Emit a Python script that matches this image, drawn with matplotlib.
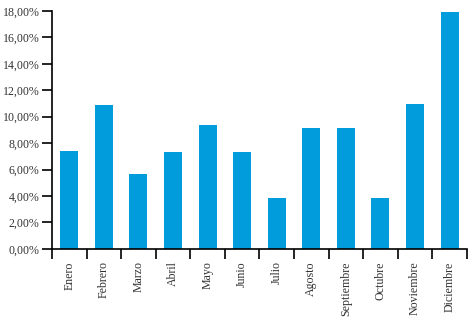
import matplotlib
matplotlib.use("Agg")
import matplotlib.pyplot as plt
from matplotlib.ticker import FuncFormatter, MultipleLocator, FixedLocator

meses = ['Enero', 'Febrero', 'Marzo', 'Abril', 'Mayo', 'Junio', 'Julio',
         'Agosto', 'Septiembre', 'Octubre', 'Noviembre', 'Diciembre']
valores = [7.4, 10.9, 5.65, 7.3, 9.35, 7.3, 3.85, 9.15, 9.15, 3.85, 10.95, 17.9]

plt.rcParams['font.family'] = ['Liberation Serif', 'DejaVu Serif']

fig = plt.figure(figsize=(4.73, 3.22), dpi=100)
ax = fig.add_axes([0.110, 0.227, 0.877, 0.739])

x = list(range(len(meses)))
ax.bar(x, valores, width=0.52, color='#009CDC', zorder=1)

ax.set_xlim(-0.5, len(meses) - 0.5)
ax.set_ylim(0, 18)

for s in ['top', 'right']:
    ax.spines[s].set_visible(False)
for s in ['left', 'bottom']:
    ax.spines[s].set_linewidth(1.2)
    ax.spines[s].set_zorder(3)

ax.yaxis.set_major_locator(MultipleLocator(2))
ax.yaxis.set_major_formatter(FuncFormatter(lambda v, p: ('%.2f' % v).replace('.', ',') + '%'))
ax.tick_params(axis='y', length=7, width=1.2, labelsize=8.6, labelcolor='#333333', color='black', pad=2)

ax.set_xticks(x)
ax.set_xticklabels(meses, rotation=90, fontsize=8.6, color='#333333')
ax.xaxis.set_minor_locator(FixedLocator([i - 0.5 for i in range(len(meses) + 1)]))
ax.tick_params(axis='x', which='major', length=0, pad=9)
ax.tick_params(axis='x', which='minor', length=7, width=1.2, color='black')

fig.savefig('out.png', dpi=100)
